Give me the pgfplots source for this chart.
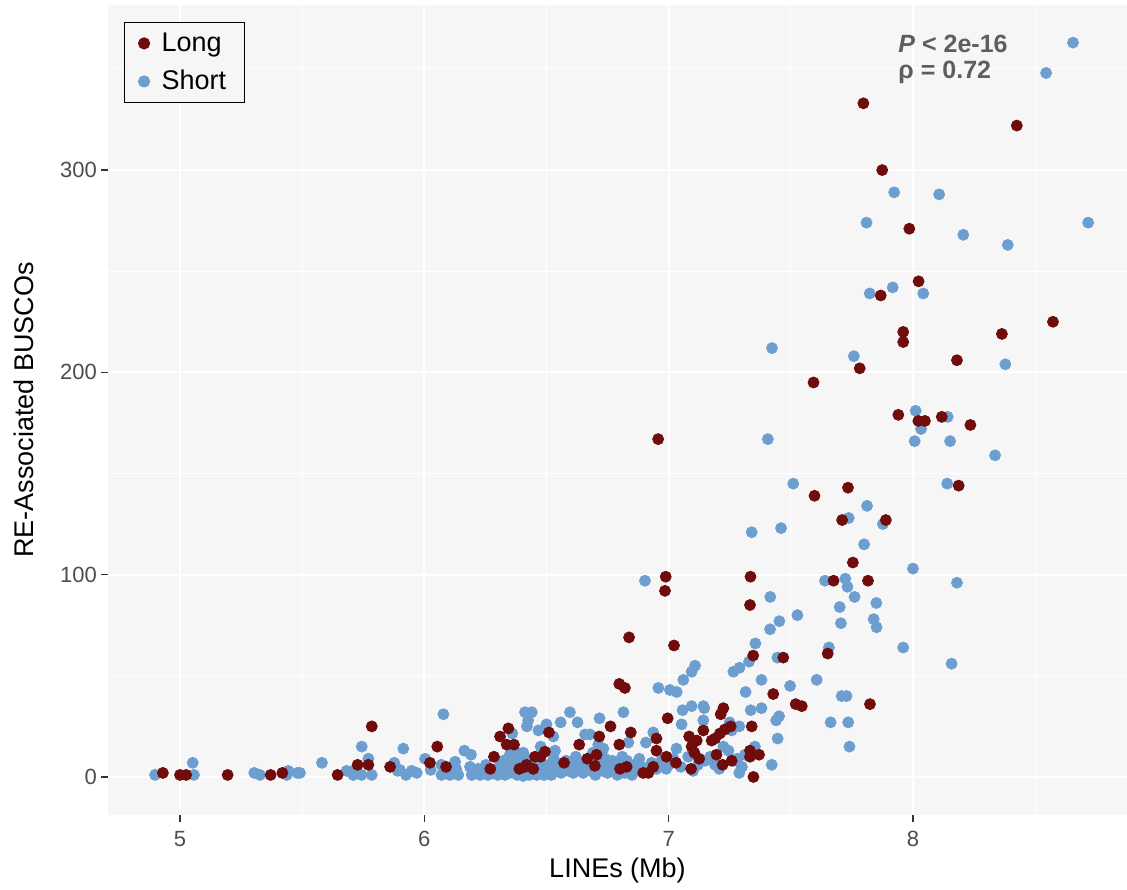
\documentclass[border=0pt]{standalone}
\usepackage{fontspec}
\setmainfont{Liberation Sans}
\usepackage{pgfplots}
\pgfplotsset{compat=1.18}
\definecolor{longc}{HTML}{700C0C}
\definecolor{shortc}{HTML}{6C9FD0}
\definecolor{panelbg}{HTML}{F6F6F6}
\definecolor{ticklab}{HTML}{4D4D4D}
\definecolor{annot}{HTML}{5E5E5E}
\begin{document}
\begin{tikzpicture}
\begin{axis}[
  scale only axis,
  width=509.5pt, height=405pt,
  xmin=4.7053, xmax=8.876,
  ymin=-18.8, ymax=381.6,
  axis background/.style={fill=panelbg},
  axis line style={draw=none},
  xtick={5,6,7,8}, ytick={0,100,200,300},
  minor xtick={5.5,6.5,7.5,8.5}, minor ytick={50,150,250,350},
  xtick pos=bottom, ytick pos=left,
  grid=both,
  major grid style={white, line width=1.1pt},
  minor grid style={white, line width=0.55pt},
  tick align=outside,
  major tick length=3.5pt,
  minor tick length=0pt,
  tick style={color=black!80, line width=0.6pt},
  /pgf/number format/assume math mode=true,
  ticklabel style={font=\fontsize{11}{13}\selectfont, text=ticklab},
  xticklabel style={yshift=-1pt},
  yticklabel style={xshift=1.5pt},
  xlabel={LINEs (Mb)},
  ylabel={RE-Associated BUSCOs},
  label style={font=\fontsize{13.5}{16}\selectfont},
  xlabel style={at={(axis description cs:0.5,-0.068)}, anchor=center},
  ylabel style={at={(axis description cs:-0.0824,0.5)}, anchor=center},
  legend style={at={(0,1)}, anchor=north west, xshift=8pt, yshift=-8.5pt,
    draw=black, line width=0.6pt, fill=panelbg, font=\fontsize{13.5}{16}\selectfont,
    row sep=4pt, inner xsep=4pt, inner ysep=3pt,
    nodes={inner xsep=5pt}},
  legend cell align=left,
  legend image code/.code={\path[draw=none] (-2.75pt,0pt) -- (6.75pt,0pt); \draw[mark repeat=2,mark phase=2,#1] plot coordinates {(-2pt,0pt) (3pt,0pt) (8pt,0pt)};},
]
\addplot[only marks, mark=*, mark size=2.75pt, color=shortc, mark options={draw=none, fill=shortc}, forget plot] table {
x y
4.898 1
5.052 7
5.057 1
5.304 2
5.327 1
5.437 1
5.443 3
5.48 2
5.491 2
5.581 7
5.682 3
5.709 3
5.709 1
5.743 1
5.744 15
5.771 9
5.785 1
5.877 7
5.891 3
5.900 3.5
5.914 14
5.925 1
5.948 3
5.969 2
6.003 9
6.026 3.5
6.07 6
6.07 1
6.078 31
6.105 1
6.126 7.5
6.13 4
6.139 1
6.164 13
6.191 11
6.187 5
6.194 1
6.228 1
6.235 3.5
6.252 6
6.31 6
6.323 8
6.337 3
6.31 3
6.357 7
6.371 4
6.35 11
6.364 12.5
6.38 12
6.405 12
6.36 21.5
6.412 32
6.44 32
6.42 25
6.425 28
6.405 0.5
6.419 2
6.467 23
6.476 15
6.5 26
6.528 20
6.535 13
6.558 27
6.596 32
6.627 27
6.658 21
6.678 21
6.712 16
6.733 14
6.717 29
6.719 14
6.815 32
6.835 17
6.907 17
6.937 22
6.903 97
6.958 44
7.005 43
7.033 42
7.06 48
7.094 52
7.108 55
7.057 33
7.094 35
7.142 35
7.053 26
7.142 28
7.146 34
7.032 14
7.08 10
6.99 4
7.149 8
7.19 6
7.207 4
7.224 15
7.245 13
7.25 27
7.258 23
7.289 25
7.265 52
7.29 54
7.329 57
7.315 42
7.336 33
7.38 34
7.289 2
7.281 9
7.312 11
7.353 15
7.34 121
7.355 66
7.38 48
7.406 167
7.415 73
7.416 89
7.422 6
7.423 212
7.44 28
7.446 19
7.452 30
7.453 77
7.445 59
7.46 123
7.497 45
7.51 145
7.527 80
7.606 48
7.64 97
7.656 64
7.663 27
7.7 84
7.705 76
7.708 40
7.723 98
7.728 40
7.732 94
7.735 27
7.737 128
7.74 15
7.758 208
7.761 89
7.8 115
7.812 134
7.823 239
7.81 274
7.839 78
7.85 86
7.851 74
7.877 125
7.917 242
7.923 289
7.96 64
8.0 103
8.007 166
8.011 181
8.033 172
8.042 239
8.107 288
8.14 145
8.142 178
8.152 166
8.158 56
8.18 96
8.206 268
8.336 159
8.378 204
8.388 263
8.545 348
8.655 363
8.717 274
6.20 2
6.22 4
6.26 1
6.28 2
6.30 1
6.33 1
6.35 2
6.36 5
6.38 1
6.39 8
6.40 3
6.42 9
6.43 1
6.44 6
6.45 2
6.46 1
6.47 4
6.48 7
6.49 1
6.50 3
6.51 6
6.52 1
6.53 9
6.54 3
6.55 5
6.56 2
6.57 4
6.58 8
6.59 3
6.60 6
6.61 2
6.62 10
6.63 4
6.64 7
6.65 2
6.66 5
6.68 3
6.69 12
6.70 1
6.72 6
6.73 3
6.74 9
6.75 2
6.76 5
6.77 8
6.78 3
6.79 1
6.80 6
6.81 10
6.82 2
6.83 8
6.84 4
6.85 1
6.86 6
6.87 3
6.88 9
6.89 5
6.91 3
6.93 7
6.95 4
6.97 8
7.00 6
7.02 9
7.05 5
7.10 3
7.12 6
7.17 10
7.27 8
7.30 5
};
\addplot[only marks, mark=*, mark size=2.75pt, color=longc, mark options={draw=none, fill=longc}, forget plot] table {
x y
4.93 2
5.00 1
5.025 1
5.195 1
5.371 1
5.419 2
5.645 1
5.727 6
5.771 6
5.785 25
5.86 5
6.023 7
6.053 15
6.089 5
6.27 4
6.285 10
6.31 20
6.344 24
6.337 16
6.367 16
6.389 4
6.412 5
6.419 6
6.446 4
6.453 10
6.476 10
6.494 12.5
6.51 22
6.572 7
6.634 16
6.667 9
6.698 5.5
6.705 11
6.716 20
6.762 25
6.798 16
6.801 4
6.828 5
6.845 22
6.798 46
6.821 44
6.838 69
6.896 2
6.917 2
6.937 5
6.95 19
6.95 13
6.991 10
6.996 29
7.03 7
6.957 167
6.988 99
6.985 92
7.022 65
7.084 20
7.092 4
7.094 15
7.105 12
7.115 18
7.125 9
7.142 23
7.176 18
7.196 11
7.19 19
7.21 21.5
7.213 31
7.224 34
7.221 6
7.23 23.5
7.254 25
7.258 8
7.333 13
7.333 10
7.34 25
7.347 0
7.37 11
7.346 60
7.335 99
7.333 85
7.428 41
7.469 59
7.52 36
7.545 35
7.593 195
7.597 139
7.651 61
7.675 97
7.71 127
7.734 143
7.754 106
7.782 202
7.797 333
7.816 97
7.824 36
7.868 238
7.874 300
7.889 127
7.94 179
7.96 220
7.96 215
7.985 271
8.023 245
8.022 176
8.049 176
8.118 178
8.18 206
8.187 144
8.235 174
8.364 219
8.425 322
8.573 225
};
\addlegendimage{only marks, mark=*, mark size=2.75pt, color=longc, mark options={draw=none, fill=longc}}
\addlegendentry{Long}
\addlegendimage{only marks, mark=*, mark size=2.75pt, color=shortc, mark options={draw=none, fill=shortc}}
\addlegendentry{Short}
\node[anchor=north west, inner sep=0pt, align=left, text=annot,
  font=\bfseries\fontsize{12.5}{13}\selectfont] at (axis cs:7.939,366.7)
  {\textit{P} < 2e-16\\ρ = 0.72};
\end{axis}
\pgfresetboundingbox
\path[use as bounding box] ([xshift=-54pt,yshift=-37.5pt]current axis.south west) rectangle ([yshift=2.5pt]current axis.north east);
\end{tikzpicture}
\end{document}
